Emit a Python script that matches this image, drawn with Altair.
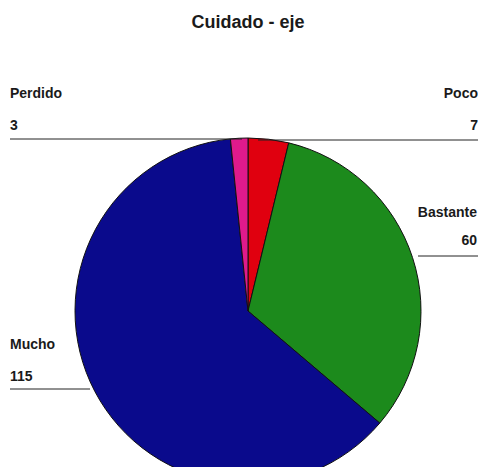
import altair as alt
import pandas as pd

# ---- data ----
categories = ["Poco", "Bastante", "Mucho", "Perdido"]
values = [7, 60, 115, 3]
colors = ["#e0000f", "#1c8a1c", "#0a0a8c", "#e01a8c"]

# ---- layout (chart pixel coordinates = page - 8) ----
W, H = 470, 459
CX, CY, R = 240, 303, 173
FONT = "Liberation Sans"

pie_df = pd.DataFrame({"cat": categories, "value": values, "order": list(range(len(categories)))})

# label anchors per category (layout only)
lab_layout = {
    "Perdido": dict(x=2, align="left", ny=90, vy=122, ly=131, lx1=2, lx2=234),
    "Poco": dict(x=470, align="right", ny=90, vy=122, ly=132, lx1=250, lx2=470),
    "Bastante": dict(x=469, align="right", ny=209, vy=237, ly=248, lx1=410, lx2=470),
    "Mucho": dict(x=2, align="left", ny=341, vy=373, ly=381, lx1=2, lx2=82),
}
rows = []
for c, v in zip(categories, values):
    L = lab_layout[c]
    rows.append(dict(cat=c, val=str(v), **L))
lab_df = pd.DataFrame(rows)

pie = alt.Chart(pie_df).mark_arc(radius=R, stroke="#111111", strokeWidth=1).encode(
    theta=alt.Theta("value:Q", stack=True),
    order=alt.Order("order:Q"),
    color=alt.Color("cat:N", scale=alt.Scale(domain=categories, range=colors), legend=None),
    x=alt.value(CX),
    y=alt.value(CY),
)

def text_layer(align, field, yfield):
    return alt.Chart(lab_df[lab_df["align"] == align]).mark_text(
        align=align, baseline="alphabetic", font=FONT, fontSize=14, fontWeight="bold", color="#1a1a1a"
    ).encode(
        x=alt.X("x:Q", scale=None),
        y=alt.Y(f"{yfield}:Q", scale=None),
        text=f"{field}:N",
    )

rules = alt.Chart(lab_df).mark_rule(color="#222222", strokeWidth=1).encode(
    x=alt.X("lx1:Q", scale=None),
    x2="lx2:Q",
    y=alt.Y("ly:Q", scale=None),
)

title = alt.Chart(pd.DataFrame({"t": ["Cuidado - eje"]})).mark_text(
    align="center", baseline="alphabetic", font=FONT, fontSize=18, fontWeight="bold", color="#1a1a1a"
).encode(x=alt.value(240), y=alt.value(20), text="t:N")

chart = alt.layer(
    pie,
    rules,
    text_layer("left", "cat", "ny"),
    text_layer("left", "val", "vy"),
    text_layer("right", "cat", "ny"),
    text_layer("right", "val", "vy"),
    title,
).properties(
    width=W, height=H, autosize=alt.AutoSizeParams(type="none"), padding=0
).configure_view(stroke=None)

chart.save("out.html", embed_options={"renderer": "svg", "actions": False})
